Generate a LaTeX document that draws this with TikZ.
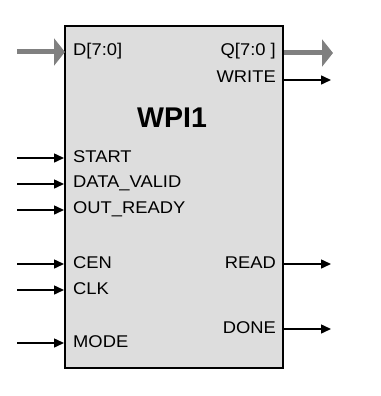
\documentclass[tikz,border=0pt]{standalone}
\usepackage{fontspec}
\setmainfont{Liberation Sans}
\newfontfamily\widefont[FakeStretch=1.08]{Liberation Sans}
\usetikzlibrary{arrows.meta}
\begin{document}
\begin{tikzpicture}[x=1pt,y=-1pt,
  lbl/.style={font=\widefont\fontsize{17}{19}\selectfont, inner sep=0pt},
  sig/.style={line width=1.5pt, -{Triangle[length=10pt,width=9pt]}},
  bus/.style={line width=5pt, draw={rgb,255:red,128;green,128;blue,128}, -{Triangle[length=11pt,width=27pt]}, shorten >=-1pt}]
\useasboundingbox (0,0) rectangle (380,396);
\node[draw, line width=2pt, fill={rgb,255:red,221;green,221;blue,221}, minimum width=218pt, minimum height=342pt, inner sep=0pt] (box) at (174,197) {};
\node[font=\fontsize{28.5}{31}\selectfont\bfseries, inner sep=0pt] (title) at (172,118) {WPI1};
% left labels
\node[lbl, anchor=west] (d) at (73,51) {D[7:0]};
\node[lbl, anchor=west] (start) at (73,157) {START};
\node[lbl, anchor=west] (dv) at (73,183) {DATA\_VALID};
\node[lbl, anchor=west] (or) at (73,209) {OUT\_READY};
\node[lbl, anchor=west] (cen) at (73,263) {CEN};
\node[lbl, anchor=west] (clk) at (73,289) {CLK};
\node[lbl, anchor=west] (mode) at (73,342) {MODE};
% right labels
\node[lbl, anchor=east] (q) at (276,51) {Q[7:0 ]};
\node[lbl, anchor=east] (wr) at (276,77) {WRITE};
\node[lbl, anchor=east] (rd) at (276,263) {READ};
\node[lbl, anchor=east] (dn) at (276,328) {DONE};
% endpoints
\coordinate (dL) at (17,52); \coordinate (dR) at (box.west |- dL);
\coordinate (sL) at (17,158); \coordinate (sR) at (box.west |- sL);
\coordinate (vL) at (17,184); \coordinate (vR) at (box.west |- vL);
\coordinate (oL) at (17,210); \coordinate (oR) at (box.west |- oL);
\coordinate (cL) at (17,264); \coordinate (cR) at (box.west |- cL);
\coordinate (kL) at (17,290); \coordinate (kR) at (box.west |- kL);
\coordinate (mL) at (17,343); \coordinate (mR) at (box.west |- mL);
\coordinate (qR) at (332,53); \coordinate (qL) at (box.east |- qR);
\coordinate (wR) at (331,80); \coordinate (wL) at (box.east |- wR);
\coordinate (rR) at (331,264); \coordinate (rL) at (box.east |- rR);
\coordinate (nR) at (331,329); \coordinate (nL) at (box.east |- nR);
\draw[bus] (dL) -- (dR);
\draw[bus] (qL) -- (qR);
\draw[sig] (sL) -- (sR);
\draw[sig] (vL) -- (vR);
\draw[sig] (oL) -- (oR);
\draw[sig] (cL) -- (cR);
\draw[sig] (kL) -- (kR);
\draw[sig] (mL) -- (mR);
\draw[sig] (wL) -- (wR);
\draw[sig] (rL) -- (rR);
\draw[sig] (nL) -- (nR);
\end{tikzpicture}
\end{document}
